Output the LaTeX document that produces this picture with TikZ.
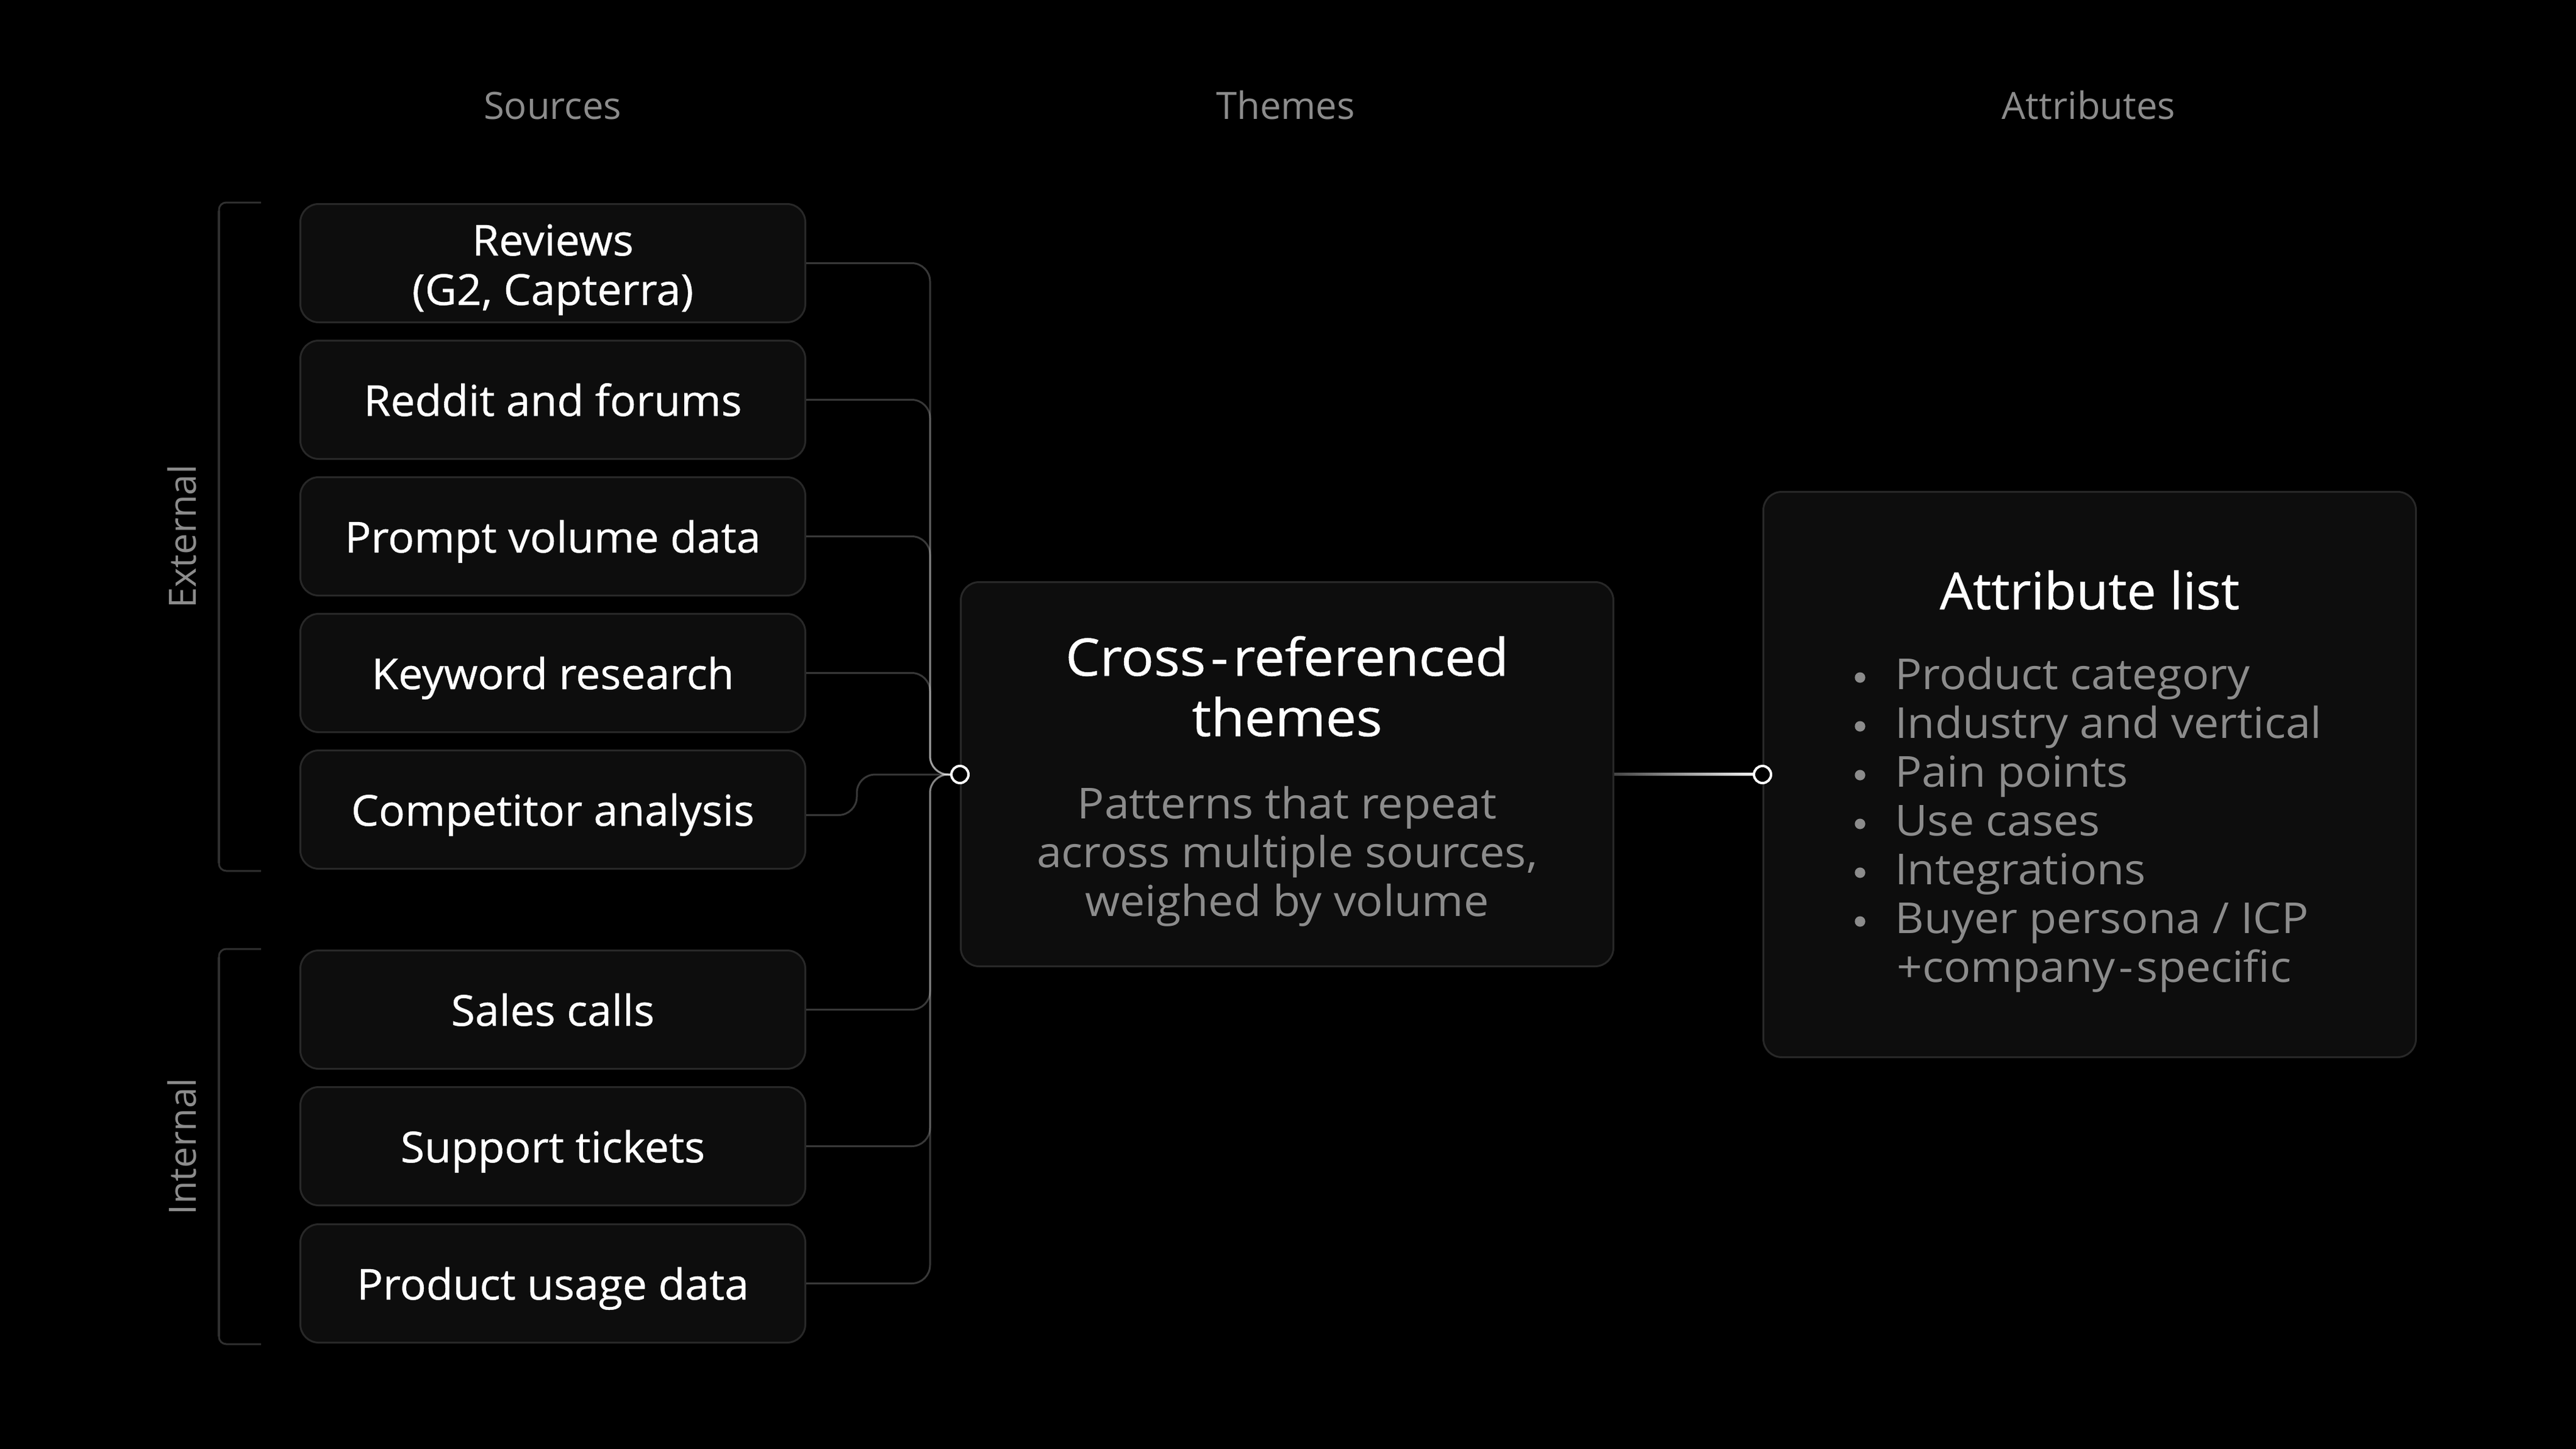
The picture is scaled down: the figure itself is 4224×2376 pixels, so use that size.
\documentclass[tikz,border=0pt]{standalone}
\usepackage{fontspec}
\setmainfont{Open Sans}
\newfontfamily\medfont{Open Sans}[FakeStretch=1.02, FakeBold=0.6]
\newfontfamily\medwide{Open Sans}[FakeStretch=1.05, FakeBold=0.6]
\newfontfamily\widefont{Open Sans}[FakeStretch=1.05]
\usetikzlibrary{calc}
\definecolor{boxfill}{HTML}{0D0D0D}
\definecolor{boxline}{HTML}{282828}
\definecolor{txtgray}{HTML}{8C8C8C}
\definecolor{brdark}{HTML}{303030}
\definecolor{brmid}{HTML}{5E5E5E}
\definecolor{gradL}{HTML}{454545}
\begin{document}
\begin{tikzpicture}[x=0.5pt,y=-0.5pt,
  srcbox/.style={draw=boxline, line width=1.5pt, fill=boxfill, rounded corners=15pt, minimum width=414pt, minimum height=97pt, inner sep=0pt},
  bigbox/.style={draw=boxline, line width=1.5pt, fill=boxfill, rounded corners=15pt, minimum width=535pt, inner sep=0pt},
  srctext/.style={text=white, font=\medfont\fontsize{35}{40.5}\selectfont, align=center, anchor=base, inner sep=0pt},
  hdr/.style={text=txtgray, font=\fontsize{30.8}{36}\selectfont, anchor=base, inner sep=0pt},
  sidelabel/.style={text=txtgray, font=\fontsize{30.8}{36}\selectfont, anchor=base, rotate=90, inner sep=0pt},
  titletext/.style={text=white, font=\medwide\fontsize{42.5}{49.5}\selectfont, align=center, anchor=base, inner sep=0pt},
  subtext/.style={text=txtgray, font=\widefont\fontsize{35}{40}\selectfont, align=center, anchor=base, inner sep=0pt},
  itemtext/.style={text=txtgray, font=\widefont\fontsize{35}{40}\selectfont, anchor=base west, inner sep=0pt},
  conn/.style={draw=white, draw opacity=0.22, line width=1.5pt, rounded corners=15pt},
  bracketline/.style={draw=brdark, line width=1.5pt, rounded corners=6pt},
  joint/.style={circle, draw=white, fill=black, line width=2pt, minimum size=14pt, inner sep=0pt}
]
\fill[black] (0,0) rectangle (4224,2376);
\useasboundingbox (0,0) rectangle (4224,2376);

% headers
\node[hdr] (h1) at (906,196) {Sources};
\node[hdr] (h2) at (2108,196) {Themes};
\node[hdr] (h3) at (3425,196) {Attributes};

% brackets
\draw[bracketline] (428,332) -- (359,332) -- (359,1428) -- (428,1428);
\shade[top color=brdark, middle color=brmid, bottom color=brdark] (357.5,345) rectangle (360.5,1415);
\draw[bracketline] (428,1556) -- (359,1556) -- (359,2204) -- (428,2204);
\shade[top color=brdark, middle color=brmid, bottom color=brdark] (357.5,1569) rectangle (360.5,2191);
\node[sidelabel] (lext) at (321,880) {External};
\node[sidelabel] (lint) at (321,1880) {Internal};

% source boxes
\node[srcbox] (s1) at (906.5,431.5) {};
\node[srcbox] (s2) at (906.5,655.5) {};
\node[srcbox] (s3) at (906.5,879.5) {};
\node[srcbox] (s4) at (906.5,1103.5) {};
\node[srcbox] (s5) at (906.5,1327.5) {};
\node[srcbox] (s6) at (906.5,1655.5) {};
\node[srcbox] (s7) at (906.5,1879.5) {};
\node[srcbox] (s8) at (906.5,2104.5) {};

\node[srctext] (t1) at (906.5,500) {Reviews\\(G2, Capterra)};
\node[srctext] (t2) at (906.5,682) {Reddit and forums};
\node[srctext] (t3) at (906.5,906) {Prompt volume data};
\node[srctext] (t4) at (906.5,1130) {Keyword research};
\node[srctext] (t5) at (906.5,1354) {Competitor analysis};
\node[srctext] (t6) at (906.5,1682) {Sales calls};
\node[srctext] (t7) at (906.5,1906) {Support tickets};
\node[srctext] (t8) at (906.5,2131) {Product usage data};

% central and attribute boxes
\node[bigbox, minimum height=315pt] (theme) at (2110.5,1269.5) {};
\node[bigbox, minimum height=463.5pt] (attr) at (3426.5,1270) {};

\coordinate (j1c) at (1574,1270);
\coordinate (j2c) at (2890,1270);

% connectors into the junction
\draw[conn] (s1.east) -| (1525,1270) -- (j1c);
\draw[conn] (s2.east) -| (1525,1270) -- (j1c);
\draw[conn] (s3.east) -| (1525,1270) -- (j1c);
\draw[conn] (s4.east) -| (1525,1270) -- (j1c);
\draw[conn] ([yshift=-4.5pt]s5.east) -| (1405,1270) -- (j1c);
\draw[conn] (s6.east) -| (1525,1270) -- (j1c);
\draw[conn] (s7.east) -| (1525,1270) -- (j1c);
\draw[conn] (s8.east) -| (1525,1270) -- (j1c);

% connector theme -> attributes (gradient)
\shade[left color=gradL, right color=white] ([yshift=0.8pt]theme.east) rectangle ([yshift=-0.8pt]j2c);

\node[joint] (j1) at (j1c) {};
\node[joint] (j2) at (j2c) {};

% theme text
\node[titletext] (tt) at (2110.5,1207) {Cross\kern4pt-\kern4pt referenced\\themes};
\node[subtext] (ts) at (2110.5,1502) {Patterns that repeat\\across multiple sources,\\weighed by volume};

% attribute text
\node[titletext, font=\medfont\fontsize{42}{49}\selectfont] (at) at (3426.5,999) {Attribute list};
\foreach \i/\t in {0/{Product category},1/{Industry and vertical},2/{Pain points},3/{Use cases},4/{Integrations},5/{Buyer persona / ICP}}{
  \fill[txtgray] (3050,1111+80*\i) circle[radius=4.3pt];
  \node[itemtext] (a\i) at (3107,1130+80*\i) {\t};
}
\node[itemtext] (a6) at (3110,1610) {+company\kern3pt-\kern3pt specific};
\end{tikzpicture}
\end{document}
